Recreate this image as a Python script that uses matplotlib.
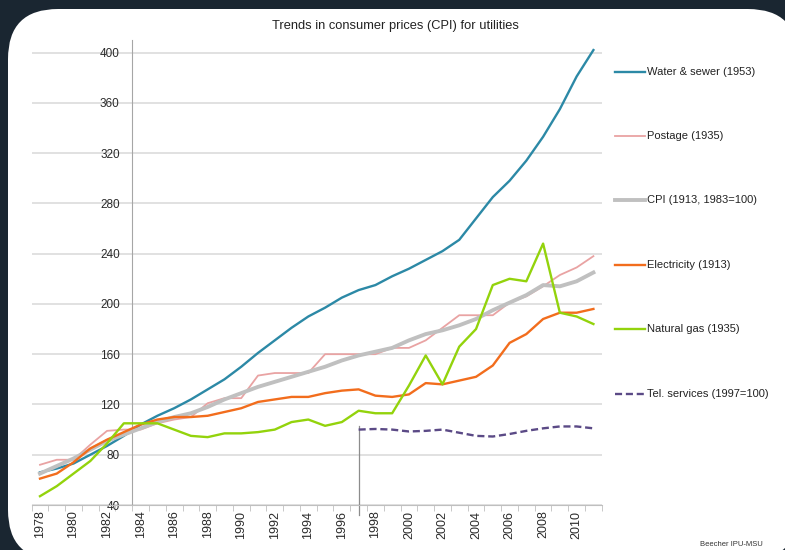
"""Trends in consumer prices (CPI) for utilities"""

import matplotlib
matplotlib.use('Agg')
import matplotlib.pyplot as plt
from matplotlib.patches import FancyBboxPatch
from matplotlib.lines import Line2D

years = list(range(1978, 2012))

water = [66, 69, 73, 80, 87, 95, 104, 111, 117, 124, 132, 140, 150, 161,
         171, 181, 190, 197, 205, 211, 215, 222, 228, 235, 242, 251, 268,
         285, 298, 314, 333, 355, 381, 402]
postage = [72, 76, 76, 88, 99, 100, 100, 105, 108, 110, 121, 125, 125, 143,
           145, 145, 145, 160, 160, 160, 160, 165, 165, 171, 181, 191, 191,
           191, 201, 206, 214, 223, 229, 238]
cpi = [65, 71, 77, 84, 91, 96, 101, 106, 110, 113, 118, 124, 129, 134,
       138, 142, 146, 150, 155, 159, 162, 165, 171, 176, 179, 183, 188,
       195, 201, 207, 215, 214, 218, 225]
electricity = [61, 65, 74, 85, 92, 98, 104, 108, 110, 110, 111, 114, 117,
               122, 124, 126, 126, 129, 131, 132, 127, 126, 128, 137, 136,
               139, 142, 151, 169, 176, 188, 193, 193, 196]
gas = [47, 55, 65, 75, 89, 105, 105, 105, 100, 95, 94, 97, 97, 98, 100,
       106, 108, 103, 106, 115, 113, 113, 135, 159, 136, 166, 180, 215, 220,
       218, 248, 193, 190, 184]
tel_years = list(range(1997, 2012))
tel = [100, 100.5, 100, 98.5, 99, 100, 97.5, 95, 94.5, 96.5, 99, 101,
       102.5, 102.5, 101]

labels = ['Water & sewer (1953)', 'Postage (1935)', 'CPI (1913, 1983=100)',
          'Electricity (1913)', 'Natural gas (1935)',
          'Tel. services (1997=100)']
y_ticks = list(range(40, 401, 40))
x_labels = list(range(1978, 2011, 2))

plt.rcParams['font.family'] = ['Liberation Sans', 'DejaVu Sans']

W, H = 785, 550
fig = plt.figure(figsize=(W / 100, H / 100), dpi=100)
fig.patch.set_facecolor('#1a2631')

panel = FancyBboxPatch((0.08 + 0.5, -0.1 + 0.5), 7.9 - 1.0, 5.51 - 1.0,
                       boxstyle='round,pad=0.5', transform=fig.dpi_scale_trans,
                       facecolor='white', edgecolor='none', zorder=-1)
fig.patches.append(panel)

ax = fig.add_axes([31.6 / W, 1 - 505 / H, (601.8 - 31.6) / W, 465 / H])
ax.set_facecolor('none')
ax.set_zorder(1)

styles = [
    dict(color='#2c89a6', lw=1.7),
    dict(color='#e9a3a3', lw=1.3),
    dict(color='#c0c0c0', lw=2.8),
    dict(color='#f26d1d', lw=1.7),
    dict(color='#93d30c', lw=1.7),
    dict(color='#5b4a86', lw=1.7, ls=(0, (3, 1.6))),
]
series = [water, postage, cpi, electricity, gas]
order = [2, 1, 0, 3, 4]
for i in order:
    ax.plot(years, series[i], **styles[i], zorder=3 + i)
ax.plot(tel_years, tel, **styles[5], zorder=9)

# marker line at start of tel. series
ax.plot([tel_years[0], tel_years[0]], [103, 32], color='#8c8c8c', lw=0.9,
        clip_on=False, zorder=2)

ax.set_xlim(1977.5, 2011.5)
ax.set_ylim(40, 410)
ax.set_yticks(y_ticks)
for v in y_ticks:
    ax.axhline(v, color='#d9d9d9', lw=1.1, zorder=1)

for side in ['top', 'right']:
    ax.spines[side].set_visible(False)
ax.spines['left'].set_position(('data', 1983.5))
ax.spines['left'].set_color('#a6a6a6')
ax.spines['bottom'].set_color('#bfbfbf')
ax.spines['left'].set_zorder(2)

ax.tick_params(axis='y', length=0, pad=9, labelsize=8.5, labelcolor='#2b2b2b')
ax.set_xticks(x_labels)
ax.set_xticklabels([str(y) for y in x_labels], rotation=90)
ax.set_xticks([y + 0.5 for y in range(1977, 2012)], minor=True)
ax.tick_params(axis='x', which='major', length=0, pad=4, labelsize=9,
               labelcolor='#2b2b2b')
ax.tick_params(axis='x', which='minor', length=4, color='#bfbfbf')

fig.text(395 / W, 1 - 26 / H,
         'Trends in consumer prices (CPI) for utilities',
         ha='center', va='center', fontsize=9.3, color='#222222')

legend_y = [72, 136, 200, 265, 329, 394]
for i, (lab, ly) in enumerate(zip(labels, legend_y)):
    st = dict(styles[i])
    fy = 1 - ly / H
    fig.add_artist(Line2D([615 / W, 645 / W], [fy, fy], **st))
    fig.text(647 / W, fy, lab, ha='left', va='center', fontsize=8,
             color='#222222')

fig.text(763 / W, 1 - 545 / H, 'Beecher IPU-MSU', ha='right', va='center',
         fontsize=5.5, color='#333333')

fig.savefig('out.png', dpi=100, facecolor=fig.get_facecolor())
